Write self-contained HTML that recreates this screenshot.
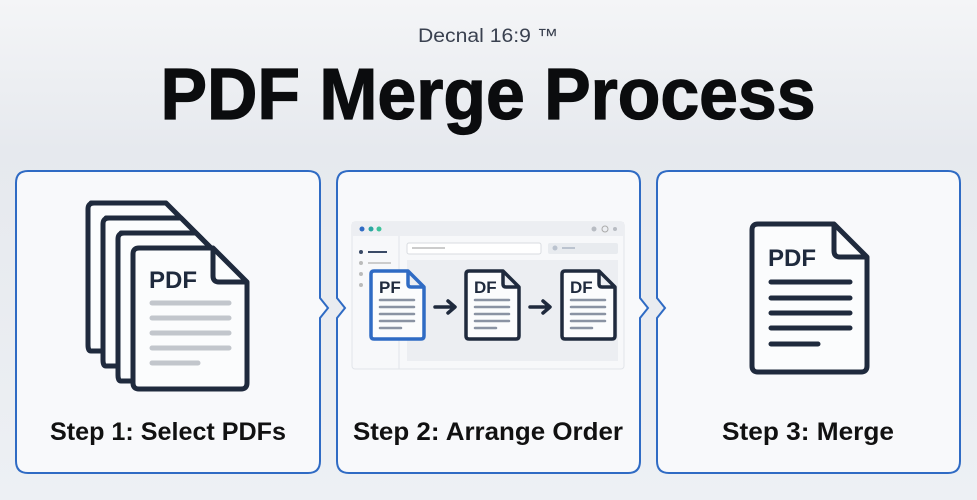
<!DOCTYPE html>
<html><head><meta charset="utf-8"><style>
html,body{margin:0;padding:0;width:977px;height:500px;overflow:hidden;background:#eef1f5}
text{font-family:"Liberation Sans",sans-serif}
</style></head><body>
<svg width="977" height="500" viewBox="0 0 977 500" xmlns="http://www.w3.org/2000/svg">
<defs>
<linearGradient id="bg" x1="0" y1="0" x2="0" y2="1">
<stop offset="0" stop-color="#f4f5f7"/><stop offset="0.3" stop-color="#e6e9ee"/><stop offset="1" stop-color="#edf0f4"/>
</linearGradient>
</defs>
<rect width="977" height="500" fill="url(#bg)"/>
<text x="488" y="42" font-size="19" fill="#3a4150" text-anchor="middle" textLength="140" lengthAdjust="spacingAndGlyphs">Decnal 16:9 ™</text>
<text x="488" y="119" font-size="72" font-weight="bold" fill="#0b0c0e" text-anchor="middle" textLength="655" lengthAdjust="spacingAndGlyphs" stroke="#0b0c0e" stroke-width="1.2">PDF Merge Process</text>

<g fill="#f8f9fb" stroke="#2f6bc4" stroke-width="2">
<path d="M28 171 H308 Q320 171 320 183 V298 L328 308 L320 318 V461 Q320 473 308 473 H28 Q16 473 16 461 V183 Q16 171 28 171 Z"/>
<path d="M349 171 H628 Q640 171 640 183 V298 L648 308 L640 318 V461 Q640 473 628 473 H349 Q337 473 337 461 V318 L345 308 L337 298 V183 Q337 171 349 171 Z"/>
<path d="M669 171 H948 Q960 171 960 183 V461 Q960 473 948 473 H669 Q657 473 657 461 V318 L665 308 L657 298 V183 Q657 171 669 171 Z"/>
</g>

<g stroke="#1f2a3d" stroke-width="5" stroke-linejoin="round" fill="#fbfcfd">
<path d="M91 203 H166 L202 239 V345 Q202 351 196 351 H91 Q88 351 88 345 V209 Q88 203 94 203 Z"/>
<path d="M106 218 H181 L217 254 V360 Q217 366 211 366 H106 Q103 366 103 360 V224 Q103 218 109 218 Z"/>
<path d="M121 233 H196 L232 269 V375 Q232 381 226 381 H121 Q118 381 118 375 V239 Q118 233 124 233 Z"/>
<path d="M139 248 H213 L247 282 V383 Q247 389 241 389 H139 Q133 389 133 383 V254 Q133 248 139 248 Z"/>
<path d="M213 248 V276 Q213 282 219 282 H247" fill="none"/>
</g>
<text x="149" y="288" font-size="24" font-weight="bold" fill="#1f2a3d">PDF</text>
<g stroke="#c2c6cc" stroke-width="5" stroke-linecap="round">
<line x1="152" y1="303" x2="229" y2="303"/><line x1="152" y1="318" x2="229" y2="318"/>
<line x1="152" y1="333" x2="229" y2="333"/><line x1="152" y1="348" x2="229" y2="348"/>
<line x1="152" y1="363" x2="198" y2="363"/>
</g>
<text x="168" y="440" font-size="25" font-weight="bold" fill="#111" text-anchor="middle" textLength="236" lengthAdjust="spacingAndGlyphs">Step 1: Select PDFs</text>

<rect x="352" y="222" width="272" height="147" rx="3" fill="#f7f8fa" stroke="#e2e5ea"/>
<rect x="352" y="222" width="272" height="14" fill="#eceef2"/>
<circle cx="362" cy="229" r="2.5" fill="#2f6bc4"/><circle cx="371" cy="229" r="2.5" fill="#2aa6a0"/><circle cx="379" cy="229" r="2.5" fill="#3cc39a"/>
<circle cx="594" cy="229" r="2.5" fill="#b8bcc3"/><circle cx="605" cy="229" r="3" fill="none" stroke="#aaa"/><circle cx="615" cy="229" r="2" fill="#b8bcc3"/>
<line x1="399" y1="236" x2="399" y2="369" stroke="#e2e5ea"/>
<circle cx="361" cy="252" r="2" fill="#3a4a66"/><line x1="368" y1="252" x2="387" y2="252" stroke="#3a4a66" stroke-width="2"/>
<circle cx="361" cy="263" r="2" fill="#bbb"/><line x1="368" y1="263" x2="391" y2="263" stroke="#ccc" stroke-width="2"/>
<circle cx="361" cy="274" r="2" fill="#bbb"/><circle cx="361" cy="285" r="2" fill="#bbb"/>
<rect x="407" y="243" width="134" height="11" rx="2" fill="#fff" stroke="#d8dbe0"/>
<line x1="412" y1="248" x2="445" y2="248" stroke="#ccc" stroke-width="2"/>
<rect x="548" y="243" width="70" height="11" rx="2" fill="#e8ebef"/>
<circle cx="555" cy="248" r="2.5" fill="#bbc3cf"/><line x1="562" y1="248" x2="575" y2="248" stroke="#bbc3cf" stroke-width="2"/>
<rect x="407" y="260" width="211" height="101" fill="#eceef2"/>
<g stroke-width="3.5" stroke-linejoin="round" fill="#fbfcfd">
<path d="M374 271 H408 L424 287 V336 Q424 339 421 339 H374 Q371 339 371 336 V274 Q371 271 374 271 Z M408 271 V284 Q408 287 411 287 H424" stroke="#2f6bc4"/>
<path d="M469 271 H503 L519 287 V336 Q519 339 516 339 H469 Q466 339 466 336 V274 Q466 271 469 271 Z M503 271 V284 Q503 287 506 287 H519" stroke="#1f2a3d"/>
<path d="M565 271 H599 L615 287 V336 Q615 339 612 339 H565 Q562 339 562 336 V274 Q562 271 565 271 Z M599 271 V284 Q599 287 602 287 H615" stroke="#1f2a3d"/>
</g>
<g font-size="17" font-weight="bold" fill="#1f2a3d"><text x="379" y="293">PF</text><text x="474" y="293">DF</text><text x="570" y="293">DF</text></g>
<g stroke="#8a93a3" stroke-width="2.5" stroke-linecap="round">
<path d="M380 300H414M380 307H414M380 314H414M380 321H414M380 328H401"/>
<path d="M475 300H509M475 307H509M475 314H509M475 321H509M475 328H496"/>
<path d="M571 300H605M571 307H605M571 314H605M571 321H605M571 328H592"/>
</g>
<g stroke="#1f2a3d" stroke-width="3.5" fill="none" stroke-linecap="round" stroke-linejoin="round">
<path d="M435 307H454M448 301L455 307L448 313"/><path d="M530 307H549M543 301L550 307L543 313"/>
</g>
<text x="488" y="440" font-size="25" font-weight="bold" fill="#111" text-anchor="middle" textLength="270" lengthAdjust="spacingAndGlyphs">Step 2: Arrange Order</text>

<g stroke="#1f2a3d" stroke-width="5" stroke-linejoin="round" fill="#fbfcfd">
<path d="M758 224 H834 L867 257 V366 Q867 372 861 372 H758 Q752 372 752 366 V230 Q752 224 758 224 Z"/>
<path d="M834 224 V251 Q834 257 840 257 H867" fill="none"/>
</g>
<text x="768" y="266" font-size="24" font-weight="bold" fill="#1f2a3d">PDF</text>
<g stroke="#1f2a3d" stroke-width="5" stroke-linecap="round">
<path d="M771 282H850M771 298H850M771 313H850M771 328H850M771 344H818"/>
</g>
<text x="808" y="440" font-size="25" font-weight="bold" fill="#111" text-anchor="middle" textLength="172" lengthAdjust="spacingAndGlyphs">Step 3: Merge</text>
</svg>
</body></html>
